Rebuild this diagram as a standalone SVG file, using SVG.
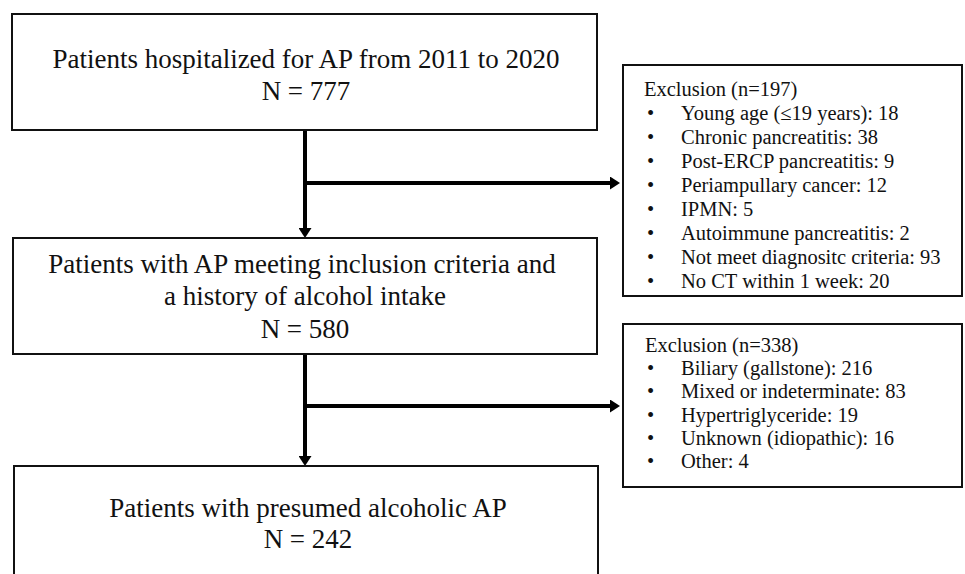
<svg xmlns="http://www.w3.org/2000/svg" width="965" height="574" viewBox="0 0 965 574">
<style>
.box{fill:#fff;stroke:#111;stroke-width:2}
.t{font-family:"Liberation Serif","Times New Roman",serif;fill:#111}
.main{font-size:27px;text-anchor:middle}
.ex{font-size:20.5px}
.conn{stroke:#000;stroke-width:4;fill:none}
</style>
<defs>
<marker id="ah" viewBox="0 0 10 13" refX="0" refY="6.5" markerWidth="2.5" markerHeight="3.25" orient="auto" markerUnits="strokeWidth">
<path d="M0,0 L10,6.5 L0,13 Z" fill="#000"/>
</marker>
</defs>
<rect width="965" height="574" fill="#fff"/>
<g id="connectors">
<line class="conn" x1="305" y1="130" x2="305" y2="228" marker-end="url(#ah)"/>
<line class="conn" x1="305" y1="183" x2="610" y2="183" marker-end="url(#ah)"/>
<line class="conn" x1="305" y1="354" x2="305" y2="456" marker-end="url(#ah)"/>
<line class="conn" x1="305" y1="406" x2="610" y2="406" marker-end="url(#ah)"/>
</g>
<g id="n1">
<rect class="box" x="12" y="14" width="585" height="116"/>
<text class="t main" x="306" y="68">Patients hospitalized for AP from 2011 to 2020</text>
<text class="t main" x="306" y="100">N = 777</text>
</g>
<g id="n2">
<rect class="box" x="13" y="238" width="584" height="116"/>
<text class="t main" x="302" y="273">Patients with AP meeting inclusion criteria and</text>
<text class="t main" x="305" y="305">a history of alcohol intake</text>
<text class="t main" x="305" y="338">N = 580</text>
</g>
<g id="n3">
<rect class="box" x="14" y="466" width="584" height="130"/>
<text class="t main" x="308" y="517">Patients with presumed alcoholic AP</text>
<text class="t main" x="308" y="548">N = 242</text>
</g>
<g id="ex1">
<rect class="box" x="623" y="65" width="339" height="231"/>
<text class="t ex" x="644" y="96">Exclusion (n=197)</text>
<g class="t ex">
<text x="647" y="120">•</text><text x="681" y="120">Young age (≤19 years): 18</text>
<text x="647" y="144">•</text><text x="681" y="144">Chronic pancreatitis: 38</text>
<text x="647" y="168">•</text><text x="681" y="168">Post-ERCP pancreatitis: 9</text>
<text x="647" y="192">•</text><text x="681" y="192">Periampullary cancer: 12</text>
<text x="647" y="216">•</text><text x="681" y="216">IPMN: 5</text>
<text x="647" y="240">•</text><text x="681" y="240">Autoimmune pancreatitis: 2</text>
<text x="647" y="264">•</text><text x="681" y="264">Not meet diagnositc criteria: 93</text>
<text x="647" y="288">•</text><text x="681" y="288">No CT within 1 week: 20</text>
</g>
</g>
<g id="ex2">
<rect class="box" x="623" y="324" width="339" height="163"/>
<text class="t ex" x="645" y="352">Exclusion (n=338)</text>
<g class="t ex">
<text x="647" y="375">•</text><text x="681" y="375">Biliary (gallstone): 216</text>
<text x="647" y="398">•</text><text x="681" y="398">Mixed or indeterminate: 83</text>
<text x="647" y="422">•</text><text x="681" y="422">Hypertriglyceride: 19</text>
<text x="647" y="445">•</text><text x="681" y="445">Unknown (idiopathic): 16</text>
<text x="647" y="468">•</text><text x="681" y="468">Other: 4</text>
</g>
</g>
</svg>
